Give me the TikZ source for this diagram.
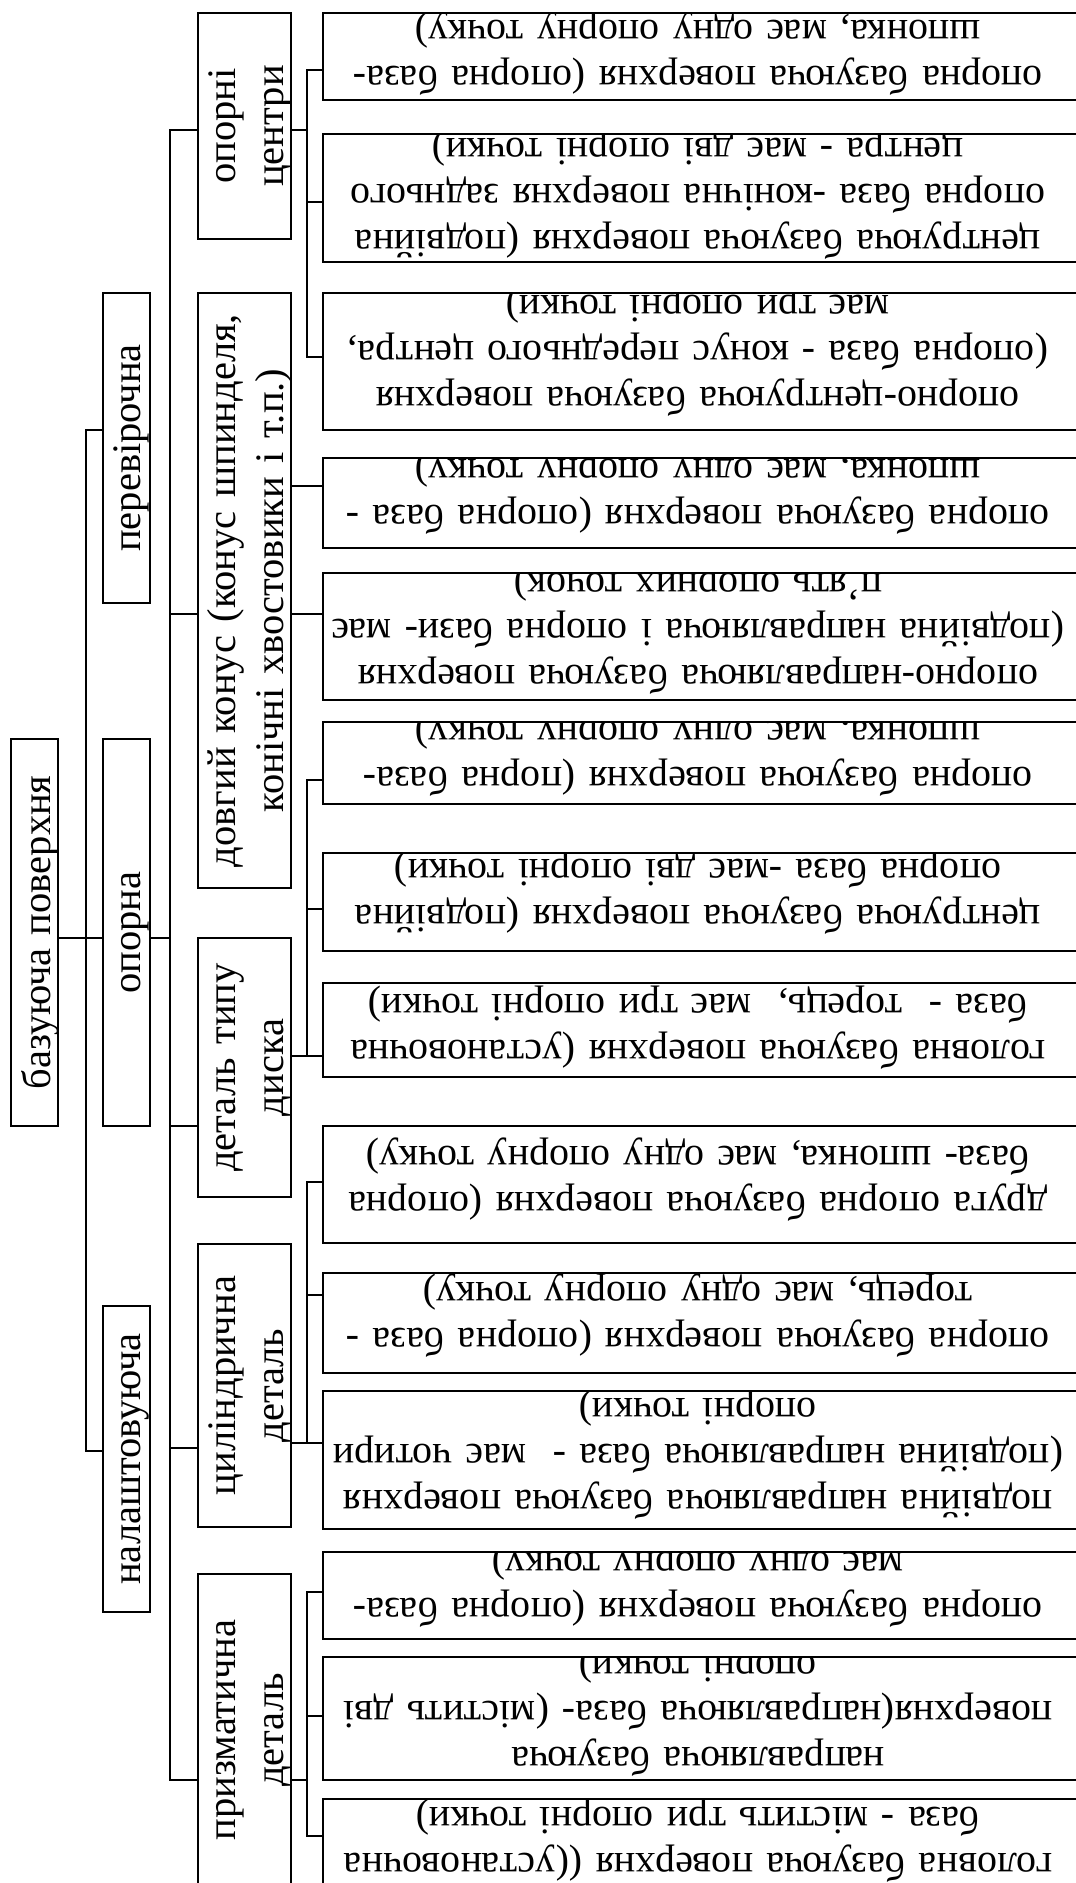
\documentclass[tikz,border=0pt]{standalone}
\usepackage{fontspec}
\setmainfont{Liberation Serif}
\tikzset{
  lw/.style={line width=2.6pt},
  lbox/.style={draw, lw, inner sep=0pt, outer sep=0pt},
  conn/.style={lw},
  rtext/.style={rotate=180, anchor=base, align=center, text width=760pt, inner sep=0pt, font=\fontsize{40}{46}\selectfont},
  vtext/.style={rotate=90, anchor=base, align=center, text width=580pt, inner sep=0pt, font=\fontsize{40.5}{48}\selectfont},
}
\newcommand{\RBox}[5]{%
  \begin{scope}
    \clip (323,#2) rectangle (1100,#3);
    \node[rtext] (#1T) at (698,#4) {#5};
  \end{scope}
  \node[lbox, minimum width=777pt, minimum height=#3pt-#2pt, anchor=north west] (#1) at (323,#2) {};
}
\begin{document}
\begin{tikzpicture}[x=1pt,y=-1pt]
\clip (0,0) rectangle (1076,1883);
% level 0
\node[lbox, minimum width=47pt, minimum height=387pt, anchor=north west] (root) at (11,739) {};
\node[vtext] (rootT) at (50,932.5) {базуюча поверхня};
% level 1
\node[lbox, minimum width=47pt, minimum height=310pt, anchor=north west] (perev) at (103,293) {};
\node[vtext] (perevT) at (140,448) {перевірочна};
\node[lbox, minimum width=47pt, minimum height=387pt, anchor=north west] (opor) at (103,739) {};
\node[vtext] (oporT) at (140,932.5) {опорна};
\node[lbox, minimum width=47pt, minimum height=306pt, anchor=north west] (nal) at (103,1306) {};
\node[vtext] (nalT) at (140,1459) {налаштовуюча};
% level 2
\node[lbox, minimum width=93pt, minimum height=226pt, anchor=north west] (centri) at (198,13) {};
\node[vtext] (centriT) at (235,126) {опорні\\центри};
\node[lbox, minimum width=93pt, minimum height=595pt, anchor=north west] (konus) at (198,293) {};
\node[vtext] (konusT) at (235,590.5) {довгий конус (конус шпинделя,\\конічні хвостовики і т.п.)};
\node[lbox, minimum width=93pt, minimum height=259pt, anchor=north west] (disk) at (198,938) {};
\node[vtext] (diskT) at (235,1067.5) {деталь типу\\диска};
\node[lbox, minimum width=93pt, minimum height=283pt, anchor=north west] (cyl) at (198,1244) {};
\node[vtext] (cylT) at (235,1385.5) {циліндрична\\деталь};
\node[lbox, minimum width=93pt, minimum height=326pt, anchor=north west] (prism) at (198,1574) {};
\node[vtext] (prismT) at (235,1730) {призматична\\деталь};
% right boxes
\RBox{b1}{13}{100}{66}{опорна базуюча поверхня (опорна база-\\шпонка, має одну опорну точку)}
\RBox{b2}{134}{262}{230}{центруюча базуюча поверхня (подвійна\\опорна база -конічна поверхня заднього\\центра - має дві опорні точки)}
\RBox{b3}{293}{430}{387}{опорно-центруюча базуюча поверхня\\(опорна база - конус переднього центра,\\має три опорні точки)}
\RBox{b4}{458}{548}{505}{опорна базуюча поверхня (опорна база -\\шпонка, має одну опорну точку)}
\RBox{b5}{573}{700}{665}{опорно-направляюча базуюча поверхня\\(подвійна направляюча і опорна бази- має\\п’ять опорних точок)}
\RBox{b6}{722}{804}{767}{опорна базуюча поверхня (порна база-\\шпонка, має одну опорну точку)}
\RBox{b7}{853}{951}{905}{центруюча базуюча поверхня (подвійна\\опорна база -має дві опорні точки)}
\RBox{b8}{983}{1077}{1040}{головна базуюча поверхня (установочна\\база -\ \ торець,\ \ має три опорні точки)}
\RBox{b9}{1126}{1243}{1192}{друга опорна базуюча поверхня (опорна\\база- шпонка, має одну опорну точку)}
\RBox{b10}{1273}{1373}{1328}{опорна базуюча поверхня (опорна база -\\торець, має одну опорну точку)}
\RBox{b11}{1391}{1529}{1490}{подвійна направляюча базуюча поверхня\\(подвійна направляюча база -\ \ має чотири\\опорні точки)}
\RBox{b12}{1552}{1639}{1598}{опорна базуюча поверхня (опорна база-\\має одну опорну точку)}
\RBox{b13}{1657}{1780}{1747}{направляюча базуюча\\поверхня(направляюча база- (містить дві\\опорні точки)}
\RBox{b14}{1799}{1900}{1853}{головна базуюча поверхня ((установочна\\база - містить три опорні точки)}
% connectors level 0-1-2
\coordinate (bus1) at (86,938);
\coordinate (bus2) at (170,938);
\draw[conn] (perev.west |- 0,430) -| (bus1) |- (nal.west |- 0,1451);
\draw[conn] (root.east |- bus1) -- (opor.west |- bus1);
\draw[conn] (opor.east |- bus2) -- (bus2);
\draw[conn] (centri.west |- 0,130) -| (bus2) |- (prism.west |- 0,1780);
\draw[conn] (bus2 |- 0,614) -- (konus.west |- 0,614);
\draw[conn] (bus2 |- 0,1126) -- (disk.west |- 0,1126);
\draw[conn] (bus2 |- 0,1448) -- (cyl.west |- 0,1448);
% connectors to right boxes
\coordinate (j1) at (307,130);
\draw[conn] (centri.east |- j1) -- (j1);
\draw[conn] (b1.west |- 0,70) -| (j1) |- (b3.west |- 0,357);
\draw[conn] (b2.west |- 0,202) -- (j1 |- 0,202);
\draw[conn] (konus.east |- 0,486) -- (b4.west |- 0,486);
\draw[conn] (konus.east |- 0,614) -- (b5.west |- 0,614);
\coordinate (j2) at (307,1056);
\draw[conn] (disk.east |- j2) -- (b8.west |- j2);
\draw[conn] (b6.west |- 0,780) -| (j2);
\draw[conn] (b7.west |- 0,909) -- (j2 |- 0,909);
\coordinate (j3) at (307,1443);
\draw[conn] (cyl.east |- j3) -- (b11.west |- j3);
\draw[conn] (b9.west |- 0,1182) -| (j3);
\draw[conn] (b10.west |- 0,1295) -- (j3 |- 0,1295);
\coordinate (j4) at (307,1780);
\draw[conn] (prism.east |- j4) -- (j4);
\draw[conn] (b12.west |- 0,1592) -| (j4) |- (b14.west |- 0,1836);
\draw[conn] (b13.west |- 0,1716) -- (j4 |- 0,1716);
\end{tikzpicture}
\end{document}
